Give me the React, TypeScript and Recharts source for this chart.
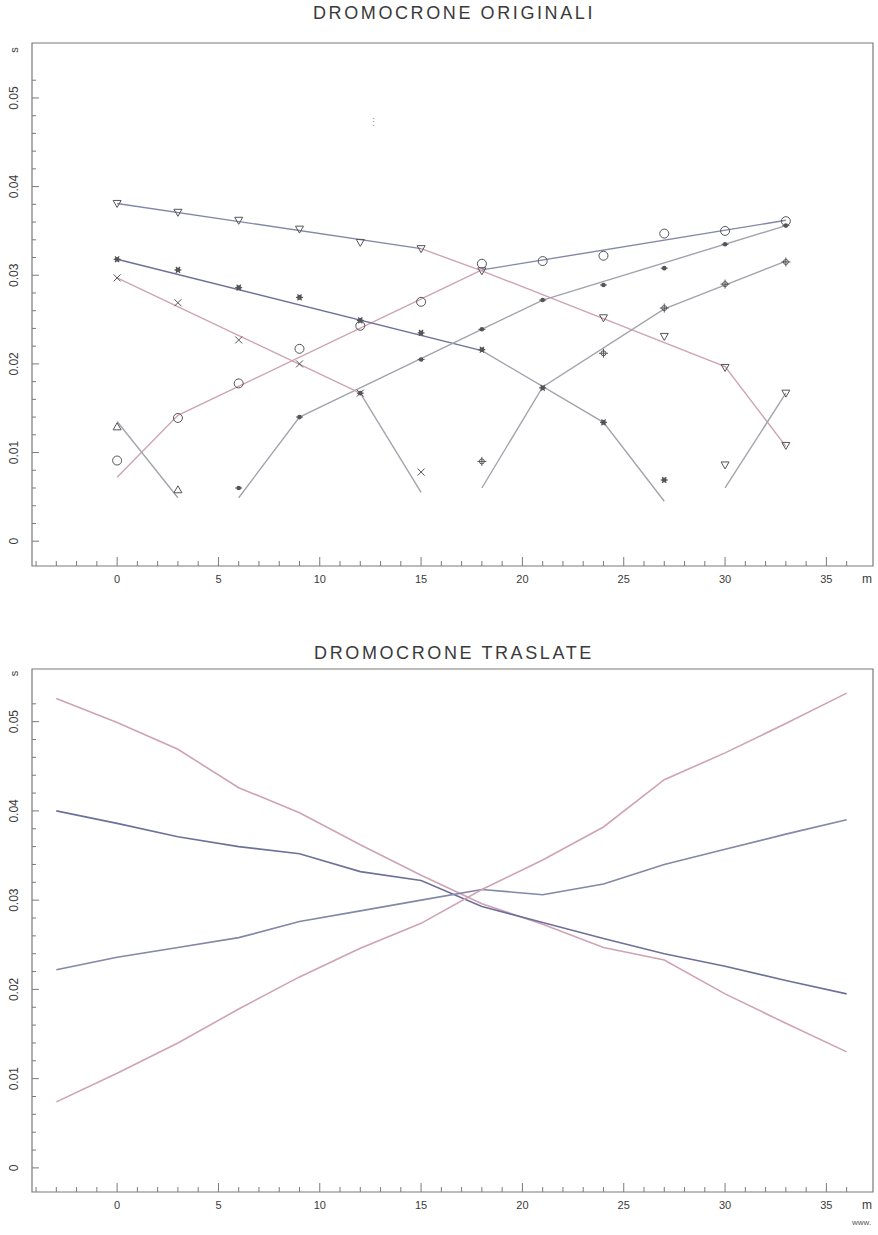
import { ComposedChart, Line, Scatter, XAxis, YAxis, ReferenceArea } from "recharts";

// posizioni dei geofoni (m)
const GEOFONI = [0, 3, 6, 9, 12, 15, 18, 21, 24, 27, 30, 33];

// tempi di primo arrivo (s) per ogni scoppio, null = non letto
const T_TRI_GIU = [0.0381, 0.0371, 0.0362, 0.0352, 0.0337, 0.033, 0.0305, null, 0.0252, 0.0231, 0.0196, 0.0108];
const T_CERCHI = [0.0091, 0.0139, 0.0178, 0.0217, 0.0243, 0.027, 0.0313, 0.0316, 0.0322, 0.0347, 0.035, 0.0361];
const T_ASTERISCHI = [0.0318, 0.0306, 0.0286, 0.0275, 0.0249, 0.0235, 0.0216, 0.0173, 0.0134, 0.0069, null, null];
const T_PUNTI = [null, null, 0.006, 0.014, 0.0167, 0.0205, 0.0239, 0.0272, 0.0289, 0.0308, 0.0335, 0.0356];
const T_CROCI = [0.0297, 0.0269, 0.0227, 0.02, 0.0167, 0.0078, null, null, null, null, null, null];
const T_TRI_SU = [0.0129, 0.0058, null, null, null, null, null, null, null, null, null, null];
const T_STELLE = [null, null, null, null, null, null, 0.009, null, 0.0212, 0.0263, 0.029, 0.0315];
const T_TRI_FINE = [null, null, null, null, null, null, null, null, null, null, 0.0086, 0.0167];

// rette interpolate (tratti diretti / rifratti)
const R_A1_X = [0, 15];
const R_A1_T = [0.0381, 0.033];
const R_A2_X = [15, 18, 24, 30, 33];
const R_A2_T = [0.033, 0.0305, 0.0251, 0.0197, 0.0107];
const R_B1_X = [0, 3, 18];
const R_B1_T = [0.0072, 0.0142, 0.0306];
const R_B2_X = [18, 33];
const R_B2_T = [0.0306, 0.0362];
const R_C1_X = [0, 18];
const R_C1_T = [0.0318, 0.0215];
const R_C2_X = [18, 24, 27];
const R_C2_T = [0.0215, 0.0134, 0.0045];
const R_D_X = [6, 9, 21, 33];
const R_D_T = [0.0049, 0.014, 0.0272, 0.0356];
const R_E1_X = [0, 12];
const R_E1_T = [0.0297, 0.0167];
const R_E2_X = [12, 15];
const R_E2_T = [0.0167, 0.0055];
const R_F_X = [0, 3];
const R_F_T = [0.0135, 0.0049];
const R_G_X = [18, 21, 27, 33];
const R_G_T = [0.006, 0.0174, 0.0262, 0.0316];
const R_H_X = [30, 33];
const R_H_T = [0.006, 0.0167];

// dromocrone traslate
const TRASL_X = [-3, 0, 3, 6, 9, 12, 15, 18, 21, 24, 27, 30, 33, 36];
const TRASL_1 = [0.0526, 0.0499, 0.0469, 0.0426, 0.0398, 0.0362, 0.0328, 0.0296, 0.0273, 0.0247, 0.0233, 0.0195, 0.0162, 0.013];
const TRASL_2 = [0.04, 0.0386, 0.0371, 0.036, 0.0352, 0.0332, 0.0322, 0.0293, 0.0275, 0.0257, 0.024, 0.0226, 0.021, 0.0195];
const TRASL_3 = [0.0222, 0.0236, 0.0247, 0.0258, 0.0276, 0.0288, 0.03, 0.0312, 0.0306, 0.0318, 0.034, 0.0357, 0.0374, 0.039];
const TRASL_4 = [0.0074, 0.0106, 0.014, 0.0178, 0.0214, 0.0246, 0.0274, 0.0312, 0.0345, 0.0382, 0.0435, 0.0465, 0.0498, 0.0532];

const X_DOMAIN: [number, number] = [-4.2, 37.3];
const X_TICKS = [-4, -3, -2, -1, 0, 1, 2, 3, 4, 5, 6, 7, 8, 9, 10, 11, 12, 13, 14, 15, 16, 17, 18, 19, 20, 21, 22, 23, 24, 25, 26, 27, 28, 29, 30, 31, 32, 33, 34, 35, 36, 37];
const Y_TICKS = [0, 0.002, 0.004, 0.006, 0.008, 0.01, 0.012, 0.014, 0.016, 0.018, 0.02, 0.022, 0.024, 0.026, 0.028, 0.03, 0.032, 0.034, 0.036, 0.038, 0.04, 0.042, 0.044, 0.046, 0.048, 0.05, 0.052];
const Y_UNIT = 0.0554;

const FONT = "'Liberation Sans', Arial, sans-serif";
const AXIS = "#7a7a7a";
const TXT = "#3a3a3a";
const MARK = "#555";
const BLU = "#8387a8";
const BLU_SCURO = "#6d7199";
const ROSA = "#cfa3b4";
const GRIGIO = "#a3a3ad";

const pts = (xs: number[], ts: number[]) => xs.map((x, i) => ({ x, t: ts[i] }));
const marks = (ts: (number | null)[]) =>
  GEOFONI.map((x, i) => ({ x, t: ts[i] })).filter((p) => p.t !== null);

function TickX(props: any) {
  const { x, y, payload } = props;
  const v = payload.value as number;
  if (v === 37) {
    return (
      <text x={x} y={y + 17} textAnchor="middle" fontSize={12} fill={TXT} fontFamily={FONT}>
        m
      </text>
    );
  }
  const major = v % 5 === 0;
  return (
    <g>
      <line x1={x} x2={x} y1={y} y2={y - (major ? 9 : 5)} stroke={AXIS} />
      {major && v >= 0 && (
        <text x={x} y={y + 17} textAnchor="middle" fontSize={11} fill={TXT} fontFamily={FONT}>
          {v}
        </text>
      )}
    </g>
  );
}

function TickY(props: any) {
  const { x, y, payload } = props;
  const v = payload.value as number;
  const tx = x - 18;
  if (v === Y_UNIT) {
    return (
      <text x={tx} y={y} transform={`rotate(-90, ${tx}, ${y})`} textAnchor="middle" dominantBaseline="central" fontSize={11} fill={TXT} fontFamily={FONT}>
        s
      </text>
    );
  }
  const major = Math.abs(v * 100 - Math.round(v * 100)) < 1e-6;
  return (
    <g>
      <line x1={x} x2={x + (major ? 7 : 4)} y1={y} y2={y} stroke={AXIS} />
      {major && (
        <text x={tx} y={y} transform={`rotate(-90, ${tx}, ${y})`} textAnchor="middle" dominantBaseline="central" fontSize={12} fill={TXT} fontFamily={FONT}>
          {v === 0 ? "0" : v.toFixed(2)}
        </text>
      )}
    </g>
  );
}

// simboli
const TriGiu = ({ cx, cy }: any) => (
  <path d={`M${cx - 4},${cy - 3} L${cx + 4},${cy - 3} L${cx},${cy + 4} Z`} fill="none" stroke={MARK} strokeWidth={1} />
);
const TriSu = ({ cx, cy }: any) => (
  <path d={`M${cx - 4},${cy + 3} L${cx + 4},${cy + 3} L${cx},${cy - 4} Z`} fill="none" stroke={MARK} strokeWidth={1} />
);
const Cerchio = ({ cx, cy }: any) => <circle cx={cx} cy={cy} r={4.5} fill="none" stroke={MARK} strokeWidth={1} />;
const Asterisco = ({ cx, cy }: any) => (
  <g stroke={MARK} strokeWidth={1.2}>
    <line x1={cx - 3.5} x2={cx + 3.5} y1={cy} y2={cy} />
    <line x1={cx - 2} x2={cx + 2} y1={cy - 3} y2={cy + 3} />
    <line x1={cx - 2} x2={cx + 2} y1={cy + 3} y2={cy - 3} />
    <circle cx={cx} cy={cy} r={1.8} fill={MARK} />
  </g>
);
const Punto = ({ cx, cy }: any) => (
  <g>
    <circle cx={cx} cy={cy} r={2.3} fill={MARK} />
    <line x1={cx - 3.5} x2={cx + 3.5} y1={cy} y2={cy} stroke={MARK} />
  </g>
);
const Croce = ({ cx, cy }: any) => (
  <g stroke={MARK} strokeWidth={1}>
    <line x1={cx - 3.5} x2={cx + 3.5} y1={cy - 3.5} y2={cy + 3.5} />
    <line x1={cx - 3.5} x2={cx + 3.5} y1={cy + 3.5} y2={cy - 3.5} />
  </g>
);
const Stella = ({ cx, cy }: any) => (
  <g stroke={MARK} strokeWidth={1} fill="none">
    <circle cx={cx} cy={cy} r={2.5} />
    <line x1={cx} x2={cx} y1={cy - 4.5} y2={cy + 4.5} />
    <line x1={cx - 4.5} x2={cx + 4.5} y1={cy} y2={cy} />
  </g>
);

const retta = (key: string, xs: number[], ts: number[], color: string, w = 1.4) => (
  <Line
    key={key}
    data={pts(xs, ts)}
    dataKey="t"
    type="linear"
    stroke={color}
    strokeWidth={w}
    dot={false}
    activeDot={false}
    isAnimationActive={false}
  />
);

const titolo = (top: number): React.CSSProperties => ({
  position: "absolute",
  left: 0,
  width: 908,
  top,
  textAlign: "center",
  fontSize: 18,
  letterSpacing: 2.6,
  color: TXT,
});

export default function App() {
  const yTop: [number, number] = [-0.0028, 0.0562];
  const yBot: [number, number] = [-0.0027, 0.0559];
  const yTicks = [...Y_TICKS, Y_UNIT];

  return (
    <div style={{ position: "absolute", left: 0, top: 0, width: 878, height: 1235, background: "#fff", fontFamily: FONT }}>
      <div style={titolo(3)}>DROMOCRONE ORIGINALI</div>
      <div style={{ position: "absolute", left: 368, top: 118, fontSize: 11, color: "#9a9a9a", lineHeight: "8px" }}>
        ⋮
      </div>
      <div style={{ position: "absolute", left: 0, top: 0 }}>
        <ComposedChart width={878} height={600} margin={{ top: 43, right: 5, bottom: 4, left: 2 }}>
          <XAxis dataKey="x" type="number" domain={X_DOMAIN} ticks={X_TICKS} interval={0} allowDataOverflow axisLine={false} tickLine={false} tickSize={0} tickMargin={0} height={30} tick={<TickX />} />
          <YAxis type="number" domain={yTop} ticks={yTicks} interval={0} allowDataOverflow axisLine={false} tickLine={false} tickSize={0} tickMargin={0} width={30} tick={<TickY />} />
          <ReferenceArea x1={X_DOMAIN[0]} x2={X_DOMAIN[1]} y1={yTop[0]} y2={yTop[1]} fill="none" stroke={AXIS} strokeWidth={1.2} />
          {retta("a1", R_A1_X, R_A1_T, BLU)}
          {retta("a2", R_A2_X, R_A2_T, ROSA)}
          {retta("b1", R_B1_X, R_B1_T, ROSA)}
          {retta("b2", R_B2_X, R_B2_T, BLU)}
          {retta("c1", R_C1_X, R_C1_T, BLU_SCURO)}
          {retta("c2", R_C2_X, R_C2_T, GRIGIO)}
          {retta("d", R_D_X, R_D_T, GRIGIO)}
          {retta("e1", R_E1_X, R_E1_T, ROSA)}
          {retta("e2", R_E2_X, R_E2_T, GRIGIO)}
          {retta("f", R_F_X, R_F_T, GRIGIO)}
          {retta("g", R_G_X, R_G_T, GRIGIO)}
          {retta("h", R_H_X, R_H_T, GRIGIO)}
          <Scatter data={marks(T_TRI_GIU)} dataKey="t" shape={<TriGiu />} isAnimationActive={false} />
          <Scatter data={marks(T_CERCHI)} dataKey="t" shape={<Cerchio />} isAnimationActive={false} />
          <Scatter data={marks(T_ASTERISCHI)} dataKey="t" shape={<Asterisco />} isAnimationActive={false} />
          <Scatter data={marks(T_PUNTI)} dataKey="t" shape={<Punto />} isAnimationActive={false} />
          <Scatter data={marks(T_CROCI)} dataKey="t" shape={<Croce />} isAnimationActive={false} />
          <Scatter data={marks(T_TRI_SU)} dataKey="t" shape={<TriSu />} isAnimationActive={false} />
          <Scatter data={marks(T_STELLE)} dataKey="t" shape={<Stella />} isAnimationActive={false} />
          <Scatter data={marks(T_TRI_FINE)} dataKey="t" shape={<TriGiu />} isAnimationActive={false} />
        </ComposedChart>
      </div>

      <div style={titolo(643)}>DROMOCRONE TRASLATE</div>
      <div style={{ position: "absolute", left: 0, top: 610 }}>
        <ComposedChart width={878} height={615} margin={{ top: 59, right: 5, bottom: 3, left: 2 }}>
          <XAxis dataKey="x" type="number" domain={X_DOMAIN} ticks={X_TICKS} interval={0} allowDataOverflow axisLine={false} tickLine={false} tickSize={0} tickMargin={0} height={30} tick={<TickX />} />
          <YAxis type="number" domain={yBot} ticks={yTicks} interval={0} allowDataOverflow axisLine={false} tickLine={false} tickSize={0} tickMargin={0} width={30} tick={<TickY />} />
          <ReferenceArea x1={X_DOMAIN[0]} x2={X_DOMAIN[1]} y1={yBot[0]} y2={yBot[1]} fill="none" stroke={AXIS} strokeWidth={1.2} />
          {retta("t1", TRASL_X, TRASL_1, ROSA, 1.6)}
          {retta("t2", TRASL_X, TRASL_2, BLU_SCURO, 1.6)}
          {retta("t3", TRASL_X, TRASL_3, BLU, 1.6)}
          {retta("t4", TRASL_X, TRASL_4, ROSA, 1.6)}
        </ComposedChart>
      </div>
      <div style={{ position: "absolute", left: 852, top: 1218, fontSize: 8, color: "#555" }}>www.</div>
    </div>
  );
}
